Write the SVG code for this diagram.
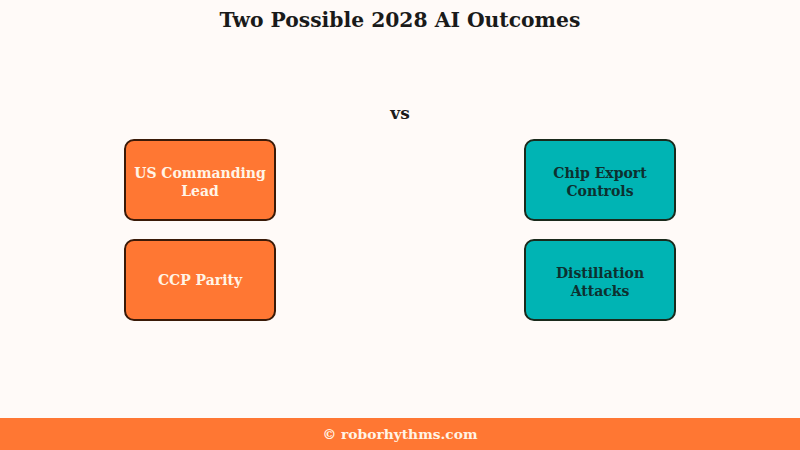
<svg xmlns="http://www.w3.org/2000/svg" width="800" height="450" viewBox="0 0 800 450">
<style>
text{font-family:"DejaVu Serif","Liberation Serif",serif;font-weight:bold;text-anchor:middle}
.title{font-size:20.3px;fill:#1a1a1a}
.vs{font-size:17px;fill:#1a1a1a}
.box-o{fill:#ff7733;stroke:#3a1a08;stroke-width:2}
.box-t{fill:#00b4b4;stroke:#1a2a1c;stroke-width:2}
.lo{font-size:14px;fill:#fff4e6}
.lt{font-size:14px;fill:#0d3030}
.foot{font-size:13.8px;fill:#fff4e6}
</style>
<rect width="800" height="450" fill="#fffaf8"/>
<text class="title" x="400" y="27">Two Possible 2028 AI Outcomes</text>
<text class="vs" x="400" y="119">vs</text>
<g id="us-lead">
<rect class="box-o" x="125" y="140" width="150" height="80" rx="9"/>
<text class="lo" x="200" y="178">US Commanding</text>
<text class="lo" x="200" y="196">Lead</text>
</g>
<g id="ccp-parity">
<rect class="box-o" x="125" y="240" width="150" height="80" rx="9"/>
<text class="lo" x="200" y="285">CCP Parity</text>
</g>
<g id="chip-export">
<rect class="box-t" x="525" y="140" width="150" height="80" rx="9"/>
<text class="lt" x="600" y="178">Chip Export</text>
<text class="lt" x="600" y="196">Controls</text>
</g>
<g id="distillation">
<rect class="box-t" x="525" y="240" width="150" height="80" rx="9"/>
<text class="lt" x="600" y="278">Distillation</text>
<text class="lt" x="600" y="296">Attacks</text>
</g>
<g id="connectors"></g>
<rect x="0" y="418" width="800" height="32" fill="#ff7733"/>
<text class="foot" x="400" y="439">© roborhythms.com</text>
</svg>
